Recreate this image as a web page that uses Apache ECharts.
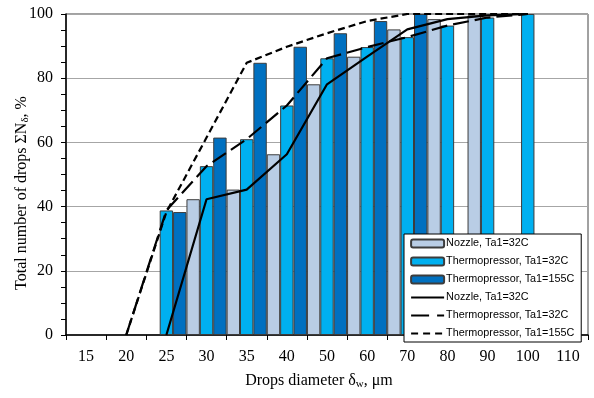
<!DOCTYPE html>
<html>
<head>
<meta charset="utf-8">
<script src="https://cdn.jsdelivr.net/npm/echarts@6/dist/echarts.min.js"></script>
<style>
  html, body { margin: 0; padding: 0; background: #fff; }
  #chart { width: 594px; height: 398px; }
</style>
</head>
<body>
<div id="chart"></div>
<script>
// Drop diameter classes, µm
const categories = ['15', '20', '25', '30', '35', '40', '50', '60', '70', '80', '90', '100', '110'];

// Cumulative share of drops per diameter class, % (bars)
const nozzleBars     = ['-', '-', '-', 42.3, 45.3, 56.3, 78.1, 86.7, 95.2, 98.4, 99.6, '-', '-'];
const thermo32Bars   = ['-', '-', 38.8, 52.6, 61.0, 71.5, 86.2, 89.7, 92.8, 96.4, 98.9, 100, '-'];
const thermo155Bars  = ['-', '-', 38.3, 61.5, 84.8, 89.8, 94.0, 97.8, 100, '-', '-', '-', '-'];

// Cumulative curves, %
const nozzleLine     = ['-', '-', 0, 42.3, 45.3, 56.3, 78.1, 86.7, 95.2, 98.4, 99.6, 100, '-'];
const thermo32Line   = ['-', 0, 38.8, 52.6, 61.0, 71.5, 86.2, 89.7, 92.8, 96.4, 98.9, 100, '-'];
const thermo155Line  = ['-', 0, 38.3, 61.5, 84.8, 89.8, 94.0, 97.8, 100, 100, 100, 100, '-'];

const yTicks = [0, 20, 40, 60, 80, 100];

const serif = '"Liberation Serif", "Times New Roman", serif';
const sans = '"Liberation Sans", Arial, sans-serif';

const nameBarNozzle = 'Nozzle, Ta1=32C';
const nameBar32 = 'Thermopressor, Ta1=32C';
const nameBar155 = 'Thermopressor, Ta1=155C';
// line series carry a trailing space so the legend keeps them as separate entries
const nameLineNozzle = 'Nozzle, Ta1=32C ';
const nameLine32 = 'Thermopressor, Ta1=32C ';
const nameLine155 = 'Thermopressor, Ta1=155C ';

const longDash = [16, 6];
const shortDash = [7, 4];

const chart = echarts.init(document.getElementById('chart'), null, { renderer: 'canvas' });

function barSeries(name, data, color) {
  return {
    name, type: 'bar', data,
    barGap: '0%', barCategoryGap: '0%',
    itemStyle: { color, borderColor: '#3c3c3c', borderWidth: 1 },
    emphasis: { disabled: true },
    z: 2
  };
}
function lineSeries(name, data, dash) {
  return {
    name, type: 'line', data,
    symbol: 'none', showSymbol: false,
    lineStyle: { color: '#000', width: 2.2, type: dash, cap: 'butt' },
    itemStyle: { color: '#000' },
    emphasis: { disabled: true },
    z: 5
  };
}
// legend entry for a curve: a plain stroke, no marker
function lineLegend(name, dash) {
  return {
    name,
    itemStyle: { color: 'rgba(0,0,0,0)', borderColor: 'rgba(0,0,0,0)', opacity: 0 },
    lineStyle: { color: '#000', width: 2.2, type: dash, cap: 'butt' }
  };
}

chart.setOption({
  animation: false,
  backgroundColor: '#fff',
  grid: {
    left: 66, right: 6, top: 14, bottom: 63,
    show: true, borderColor: '#444', borderWidth: 1, backgroundColor: 'transparent'
  },
  legend: {
    orient: 'vertical',
    left: 404, top: 234,
    padding: [4, 4, 3, 6],
    itemWidth: 33, itemHeight: 8, itemGap: 7,
    backgroundColor: '#fff',
    borderColor: '#000', borderWidth: 1, borderRadius: 0,
    textStyle: { fontFamily: sans, fontSize: 10.8, color: '#000', padding: [0, 0, 0, -3] },
    data: [
      nameBarNozzle, nameBar32, nameBar155,
      lineLegend(nameLineNozzle, 'solid'),
      lineLegend(nameLine32, [18, 8]),
      lineLegend(nameLine155, [7, 5])
    ],
    selectedMode: false
  },
  xAxis: {
    type: 'category',
    data: categories,
    boundaryGap: true,
    axisLine: { lineStyle: { color: '#000', width: 1.5 } },
    axisTick: { show: true, length: 5, lineStyle: { color: '#000' } },
    axisLabel: { fontFamily: serif, fontSize: 16, color: '#000', margin: 14, interval: 0 },
    splitLine: { show: false }
  },
  yAxis: {
    type: 'value',
    min: yTicks[0], max: yTicks[yTicks.length - 1], interval: 20,
    axisLine: { show: true, lineStyle: { color: '#000', width: 1.5 } },
    axisTick: { show: true, length: 5, lineStyle: { color: '#000' } },
    minorTick: { show: true, splitNumber: 4, length: 5, lineStyle: { color: '#000' } },
    axisLabel: { fontFamily: serif, fontSize: 16, color: '#000', margin: 13 },
    splitLine: { show: true, lineStyle: { color: '#a6a6a6', width: 1 } }
  },
  graphic: [
    {
      type: 'text', x: 22, y: 193, rotation: Math.PI / 2,
      style: {
        text: 'Total number of drops ΣN{sub|δ}, %',
        font: '16px ' + serif, fill: '#000',
        align: 'center', verticalAlign: 'middle',
        rich: { sub: { fontFamily: serif, fontSize: 11, fill: '#000', verticalAlign: 'bottom', padding: [7, 0, 0, 0] } }
      }
    },
    {
      type: 'text', x: 319, y: 381,
      style: {
        text: 'Drops diameter δ{sub|w}, μm',
        font: '16px ' + serif, fill: '#000',
        align: 'center', verticalAlign: 'middle',
        rich: { sub: { fontFamily: serif, fontSize: 11, fill: '#000', verticalAlign: 'bottom', padding: [7, 0, 0, 0] } }
      }
    }
  ],
  series: [
    barSeries(nameBarNozzle, nozzleBars, '#b9cde5'),
    barSeries(nameBar32, thermo32Bars, '#00b0f0'),
    barSeries(nameBar155, thermo155Bars, '#0070c0'),
    lineSeries(nameLineNozzle, nozzleLine, 'solid'),
    lineSeries(nameLine32, thermo32Line, longDash),
    lineSeries(nameLine155, thermo155Line, shortDash)
  ]
});
</script>
</body>
</html>
